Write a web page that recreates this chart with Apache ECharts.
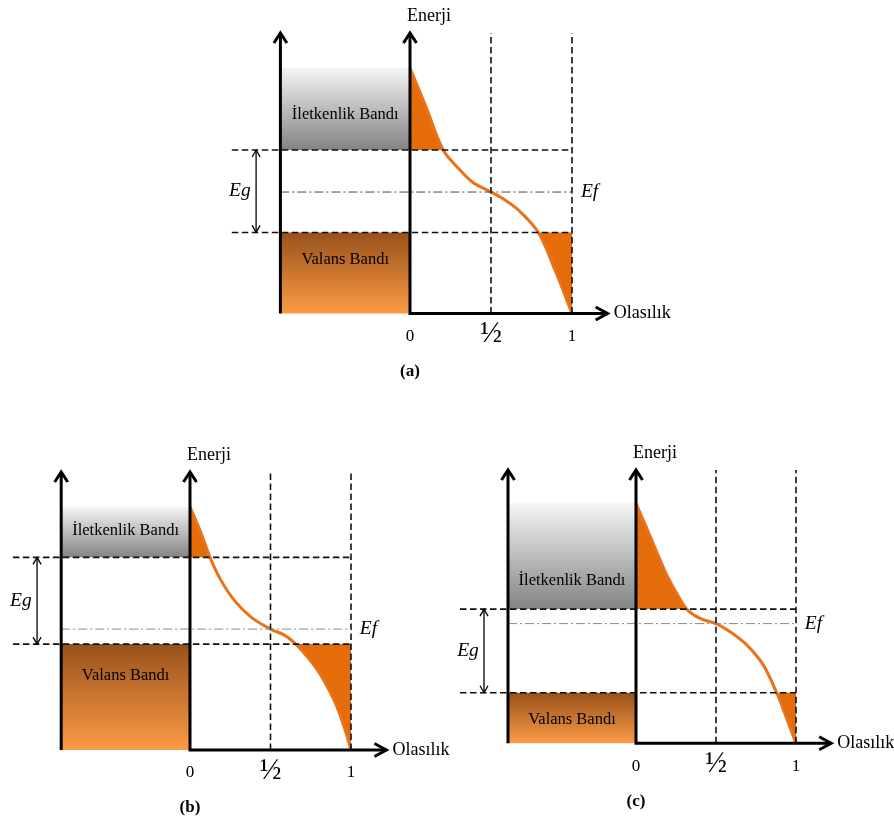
<!DOCTYPE html>
<html>
<head>
<meta charset="utf-8">
<script src="https://cdn.jsdelivr.net/npm/echarts@6/dist/echarts.min.js"></script>
<style>
  html, body { margin: 0; padding: 0; background: #ffffff; }
  #main { width: 894px; height: 820px; }
</style>
</head>
<body>
<div id="main"></div>
<script>
// ---- values (probability P on x, energy in % of the axis height on y) ----
const panelNames = ['(a)', '(b)', '(c)'];
const probTicks = [0, 0.5, 1];
const probTickLabels = ['0', '½', '1'];

const bandTop        = [87.5, 87.5, 87.8];
const conductionEdge = [58.3, 69.3, 49.1];
const fermiLevel     = [43.3, 43.5, 43.8];
const valenceEdge    = [28.9, 38.1, 18.5];

// Fermi–Dirac occupation curves [P, E]
const curveA = [[0, 87.5], [0.1, 73.5], [0.205, 58.3], [0.298, 51.8], [0.386, 46.8], [0.5, 43.3],
                [0.586, 40.5], [0.669, 36.9], [0.792, 28.9], [0.895, 15.5], [1, 0]];
const curveB = [[0, 87.5], [0.07, 77.9], [0.124, 69.3], [0.191, 61.2], [0.273, 54.0], [0.377, 47.9],
                [0.5, 43.5], [0.584, 41.4], [0.657, 38.1], [0.791, 28.8], [0.894, 18.0], [0.957, 8.4], [1, 0]];
const curveC = [[0, 87.8], [0.067, 78.7], [0.129, 70.1], [0.192, 61.6], [0.254, 54.9], [0.317, 49.1],
                [0.4, 45.7], [0.5, 43.8], [0.588, 40.8], [0.692, 36.0], [0.796, 28.6], [0.879, 18.5],
                [0.942, 9.1], [1, 0]];
const curves = [curveA, curveB, curveC];

const conductionLabel = 'İletkenlik Bandı';
const valenceLabel = 'Valans Bandı';
const energyName = 'Enerji';
const probName = 'Olasılık';

// ---- layout ----
const grids = [
  { left: 248, top: 33,  width: 405,   height: 280.5 },
  { left: 29,  top: 472, width: 402.5, height: 278 },
  { left: 476, top: 470, width: 400,   height: 273.3 }
];
// energy at which the band names sit: [conduction, valence]
const bandLabelAt = [[70.8, 19.1], [78.9, 26.7], [59.5, 8.5]];
const fermiLineColor = ['#4a4a4a', '#8a8a8a', '#8a8a8a'];
const G = { bandLeft: -0.8, dashLeft: -1.1, egX: -0.95, egLabelX: -1.05, efLabelX: 1.055, axisEnd: 1.22, eMax: 100 };
const FONT = 'Liberation Serif';
const ORANGE = '#E46C0A';

function vGrad(c0, c1) {
  return new echarts.graphic.LinearGradient(0, 0, 0, 1, [
    { offset: 0, color: c0 }, { offset: 1, color: c1 }
  ]);
}

// smooth cubic segments through pixel points: tangent along the neighbour chord,
// handle length a third of each segment (no overshoot with uneven spacing)
function splineSegments(pts) {
  const n = pts.length;
  const dirs = pts.map((p, i) => {
    const a = pts[Math.max(i - 1, 0)], b = pts[Math.min(i + 1, n - 1)];
    const dx = b[0] - a[0], dy = b[1] - a[1], len = Math.hypot(dx, dy) || 1;
    return [dx / len, dy / len];
  });
  const segs = [];
  for (let i = 0; i < n - 1; i++) {
    const p1 = pts[i], p2 = pts[i + 1];
    const h = Math.hypot(p2[0] - p1[0], p2[1] - p1[1]) / 3;
    segs.push([
      [p1[0] + dirs[i][0] * h, p1[1] + dirs[i][1] * h],
      [p2[0] - dirs[i + 1][0] * h, p2[1] - dirs[i + 1][1] * h],
      p2
    ]);
  }
  return segs;
}
function splinePath(pts, segs, from, to) {
  let d = 'M' + pts[from][0] + ',' + pts[from][1];
  for (let i = from; i < to; i++) {
    const s = segs[i];
    d += ' C' + s[0][0] + ',' + s[0][1] + ' ' + s[1][0] + ',' + s[1][1] + ' ' + s[2][0] + ',' + s[2][1];
  }
  return d;
}

function line(a, b, style) {
  return { type: 'line', shape: { x1: a[0], y1: a[1], x2: b[0], y2: b[1] }, style: style };
}
function poly(points, style) {
  return { type: 'polyline', shape: { points: points }, style: style };
}
function text(str, x, y, opts) {
  return {
    type: 'text', x: x, y: y,
    style: Object.assign({
      text: str, fill: '#000', fontFamily: FONT, fontSize: 17,
      align: 'center', verticalAlign: 'middle'
    }, opts || {})
  };
}

function renderPanel(k) {
  return function (params, api) {
    const pt = (p, e) => api.coord([p, e]);
    const top = bandTop[k], ec = conductionEdge[k], ef = fermiLevel[k], ev = valenceEdge[k];
    const els = [];
    const axisStyle = { stroke: '#000', lineWidth: 3, fill: 'none', lineJoin: 'miter' };

    // bands
    const cTL = pt(G.bandLeft, top), cBR = pt(0, ec);
    els.push({ type: 'rect', shape: { x: cTL[0], y: cTL[1], width: cBR[0] - cTL[0], height: cBR[1] - cTL[1] },
               style: { fill: vGrad('#f5f5f5', '#838383') } });
    const vTL = pt(G.bandLeft, ev), vBR = pt(0, 0);
    els.push({ type: 'rect', shape: { x: vTL[0], y: vTL[1], width: vBR[0] - vTL[0], height: vBR[1] - vTL[1] },
               style: { fill: vGrad('#98511b', '#fc9b45') } });
    const midX = (cTL[0] + cBR[0]) / 2;
    els.push(text(conductionLabel, midX, pt(0, bandLabelAt[k][0])[1], { fontSize: 16.5 }));
    els.push(text(valenceLabel, midX, pt(0, bandLabelAt[k][1])[1], { fontSize: 16.5 }));

    // occupied / empty tails of the distribution
    const pts = curves[k].map(d => pt(d[0], d[1]));
    const segs = splineSegments(pts);
    const iEc = curves[k].findIndex(d => Math.abs(d[1] - ec) < 1e-6);
    const iEv = curves[k].findIndex(d => Math.abs(d[1] - ev) < 1e-6);
    const cornerTop = pt(0, ec), cornerBot = pt(1, ev);
    els.push({ type: 'path', shape: { pathData: splinePath(pts, segs, 0, iEc) + ' L' + cornerTop[0] + ',' + cornerTop[1] + ' Z' },
               style: { fill: ORANGE, stroke: 'none' } });
    els.push({ type: 'path', shape: { pathData: splinePath(pts, segs, iEv, pts.length - 1) + ' L' + cornerBot[0] + ',' + cornerBot[1] + ' Z' },
               style: { fill: ORANGE, stroke: 'none' } });
    els.push({ type: 'path', shape: { pathData: splinePath(pts, segs, 0, pts.length - 1) },
               style: { fill: 'none', stroke: '#E8731A', lineWidth: 3 } });

    // guide lines
    const dash = { stroke: '#111', lineWidth: 1.6, lineDash: [6.5, 3.5] };
    [ec, ev].forEach(e => els.push(line(pt(G.dashLeft, e), pt(1, e), dash)));
    [0.5, 1].forEach(p => els.push(line(pt(p, 0), pt(p, G.eMax), dash)));
    els.push(line(pt(G.bandLeft, ef), pt(1, ef), { stroke: fermiLineColor[k], lineWidth: 1, lineDash: [9, 3, 2, 3] }));

    // left energy arrow
    const lb = pt(G.bandLeft, 0), lt = pt(G.bandLeft, G.eMax);
    els.push(poly([lb, lt], axisStyle));
    els.push(poly([[lt[0] - 6.5, lt[1] + 10], lt, [lt[0] + 6.5, lt[1] + 10]], axisStyle));
    // energy axis and probability axis
    const o = pt(0, 0), et = pt(0, G.eMax), pe = pt(G.axisEnd, 0);
    els.push(poly([et, o, pe], axisStyle));
    els.push(poly([[et[0] - 6.5, et[1] + 10], et, [et[0] + 6.5, et[1] + 10]], axisStyle));
    els.push(poly([[pe[0] - 12, pe[1] - 6.5], pe, [pe[0] - 12, pe[1] + 6.5]], axisStyle));

    // band gap arrow
    const gTop = pt(G.egX, ec), gBot = pt(G.egX, ev);
    const thin = { stroke: '#000', lineWidth: 1.3, fill: 'none' };
    els.push(line(gTop, gBot, thin));
    els.push(poly([[gTop[0] - 4, gTop[1] + 7], gTop, [gTop[0] + 4, gTop[1] + 7]], thin));
    els.push(poly([[gBot[0] - 4, gBot[1] - 7], gBot, [gBot[0] + 4, gBot[1] - 7]], thin));

    // names
    const egPos = pt(G.egLabelX, (ec + ev) / 2);
    els.push(text('Eg', egPos[0], egPos[1], { fontSize: 19.5, fontStyle: 'italic' }));
    const efPos = pt(G.efLabelX, ef);
    els.push(text('Ef', efPos[0], efPos[1], { fontSize: 19.5, fontStyle: 'italic', align: 'left' }));
    els.push(text(energyName, et[0] - 3, et[1] - 17, { fontSize: 18, align: 'left' }));
    els.push(text(probName, pe[0] + 6, pe[1], { fontSize: 18, align: 'left' }));
    els.push(text(panelNames[k], o[0], o[1] + 58, { fontSize: 17, fontWeight: 'bold' }));

    return { type: 'group', children: els };
  };
}

const chart = echarts.init(document.getElementById('main'), null, { renderer: 'canvas' });
chart.setOption({
  animation: false,
  backgroundColor: '#ffffff',
  grid: grids,
  xAxis: grids.map((g, i) => ({
    type: 'value', gridIndex: i, min: -1, max: 1.5, interval: 0.5,
    axisLine: { show: false }, axisTick: { show: false }, splitLine: { show: false },
    axisLabel: {
      margin: 23, verticalAlign: 'middle', color: '#000', fontFamily: FONT, fontSize: 17,
      showMinLabel: true, showMaxLabel: true,
      formatter: v => {
        const j = probTicks.indexOf(v);
        if (j < 0) return '';
        return v === 0.5 ? '{h|' + probTickLabels[j] + '}' : probTickLabels[j];
      },
      rich: { h: { fontFamily: FONT, fontSize: 29, color: '#000', padding: [0, 0, 4, 0] } }
    }
  })),
  yAxis: grids.map((g, i) => ({ type: 'value', gridIndex: i, min: 0, max: 100, show: false })),
  series: grids.map((g, i) => ({
    type: 'custom', xAxisIndex: i, yAxisIndex: i, clip: false, silent: true,
    data: [[0, 0]], renderItem: renderPanel(i)
  }))
});
</script>
</body>
</html>
